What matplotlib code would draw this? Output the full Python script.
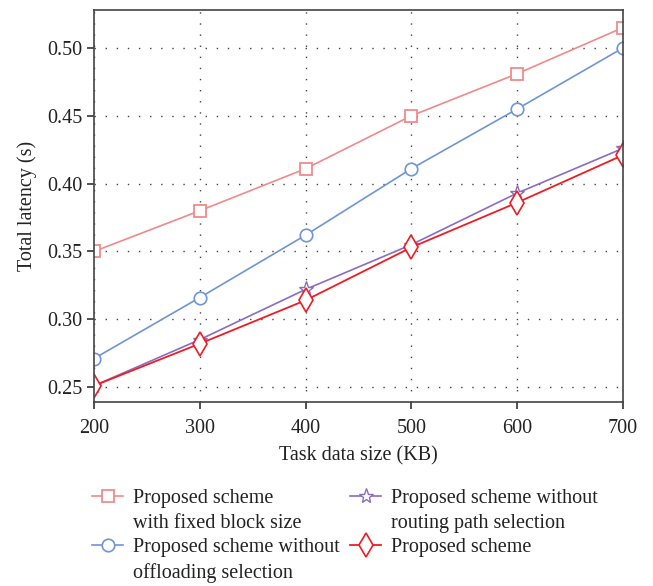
import matplotlib.pyplot as plt
from matplotlib.lines import Line2D

# data
sizes = [200, 300, 400, 500, 600, 700]
fixed_block = [0.350, 0.380, 0.411, 0.450, 0.481, 0.515]
no_offload = [0.271, 0.316, 0.362, 0.411, 0.455, 0.500]
no_routing = [0.251, 0.285, 0.322, 0.355, 0.393, 0.426]
proposed = [0.251, 0.282, 0.314, 0.353, 0.386, 0.421]

plt.rcParams['font.family'] = ['Liberation Serif', 'DejaVu Serif']
fs = 14.5

fig = plt.figure(figsize=(6.53, 5.86), dpi=100)
ax = fig.add_axes([0.144, 0.314, 0.810, 0.669])

l1, = ax.plot(sizes, fixed_block, color='#f08a8a', marker='s', markersize=8.5,
              markerfacecolor='white', markeredgewidth=1.3, linewidth=1.2)
l2, = ax.plot(sizes, no_offload, color='#6f95d6', marker='o', markersize=9,
              markerfacecolor='white', markeredgewidth=1.2, linewidth=1.2)
l3, = ax.plot(sizes, no_routing, color='#8a6cc0', marker='*', markersize=11,
              markerfacecolor='white', markeredgewidth=1.0, linewidth=1.2)
l4, = ax.plot(sizes, proposed, color='#ee1c24', marker='d', markersize=12,
              markerfacecolor='white', markeredgewidth=1.2, linewidth=1.3)

ax.set_xlim(200, 700)
ax.set_ylim(0.239, 0.528)
ax.set_xticks(sizes)
ax.set_yticks([0.25, 0.30, 0.35, 0.40, 0.45, 0.50])
ax.set_yticklabels(['0.25', '0.30', '0.35', '0.40', '0.45', '0.50'])
ax.grid(True, linestyle=(0, (1, 7)), color='#444444', linewidth=1.0)
ax.tick_params(direction='out', length=5, width=1.2, colors='#333333',
               labelcolor='#222222', labelsize=fs)
ax.tick_params(axis='x', pad=7)
for s in ax.spines.values():
    s.set_color('#444444')
    s.set_linewidth(1.2)

ax.set_xlabel('Task data size (KB)', fontsize=fs, color='#222222', labelpad=6)
ax.set_ylabel('Total latency (s)', fontsize=fs, color='#222222', labelpad=7)

# legend: two-line labels split so the marker sits on the first line
blank = Line2D([], [], color='none')
handles = [l1, blank, l2, blank, l3, blank, l4]
labels = ['Proposed scheme', 'with fixed block size',
          'Proposed scheme without', 'offloading selection',
          'Proposed scheme without', 'routing path selection',
          'Proposed scheme']
fig.legend(handles, labels, loc='upper left', bbox_to_anchor=(0.141, 0.166),
           ncol=2, frameon=False, fontsize=fs, handlelength=1.55,
           columnspacing=0.5, labelspacing=0.28, handletextpad=0.5,
           borderpad=0, borderaxespad=0, labelcolor='#222222')

plt.savefig('out.png', dpi=100)
